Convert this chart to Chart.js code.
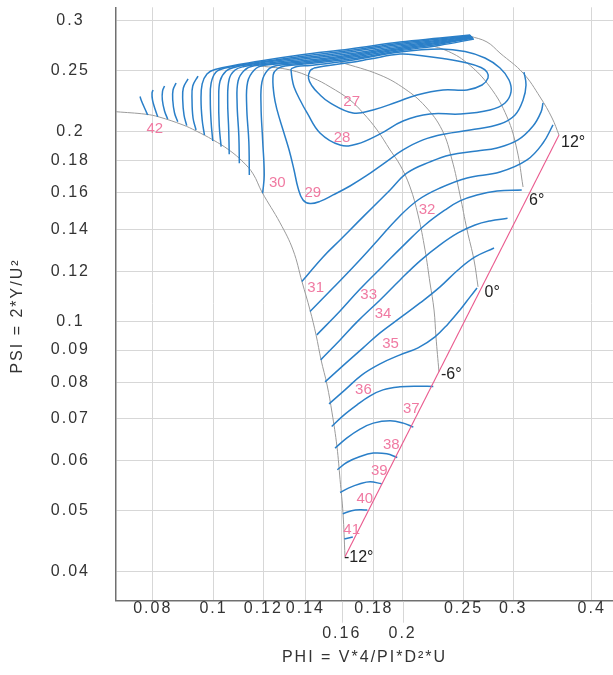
<!DOCTYPE html>
<html><head><meta charset="utf-8">
<script src="https://cdn.jsdelivr.net/npm/chart.js@4/dist/chart.umd.min.js"></script>
<style>html,body{margin:0;padding:0;background:#fff;}canvas{display:block;}</style>
</head><body>
<canvas id="c" width="613" height="675" style="width:613px;height:675px"></canvas>
<script>
// ---- axes ----
const X_TICKS = [0.08, 0.1, 0.12, 0.14, 0.16, 0.18, 0.2, 0.25, 0.3, 0.4];
const X_LABELS = ['0.08', '0.1', '0.12', '0.14', ['', '0.16'], '0.18', ['', '0.2'], '0.25', '0.3', '0.4'];
const Y_TICKS = [0.04, 0.05, 0.06, 0.07, 0.08, 0.09, 0.1, 0.12, 0.14, 0.16, 0.18, 0.2, 0.25, 0.3];
const Y_LABELS = ['0.04', '0.05', '0.06', '0.07', '0.08', '0.09', '0.1', '0.12', '0.14', '0.16', '0.18', '0.2', '0.25', '0.3'];
const X_TITLE = 'PHI = V*4/PI*D²*U';
const Y_TITLE = 'PSI = 2*Y/U²';

// ---- grey boundary / angle arcs [phi, psi] ----
const ARC_LEFT = [[0.06992,0.2152],[0.07806,0.2132],[0.08187,0.2111],[0.0894,0.205],[0.09376,0.2006],[0.09979,0.1941],[0.1058,0.1871],[0.1114,0.1791],[0.1156,0.1714],[0.1194,0.1604],[0.1276,0.1433],[0.1338,0.1298],[0.1383,0.1155],[0.1424,0.1042],[0.1456,0.0951],[0.1483,0.0868],[0.1516,0.0792],[0.1544,0.0715],[0.1572,0.0632],[0.1590,0.0560],[0.1607,0.0496],[0.1619,0.04225]];
const ARC_M6 = [[0.1186,0.2544],[0.1324,0.2507],[0.1440,0.2434],[0.1533,0.2356],[0.1649,0.2246],[0.1730,0.2142],[0.1821,0.2013],[0.1910,0.1871],[0.1981,0.1771],[0.2055,0.1634],[0.2116,0.1475],[0.2171,0.1298],[0.2211,0.1150],[0.2244,0.1042],[0.2260,0.0944],[0.2285,0.0831]];
const ARC_0 = [[0.1590,0.2581],[0.1841,0.2461],[0.2018,0.2338],[0.2171,0.2197],[0.2311,0.2013],[0.2397,0.1804],[0.2468,0.1587],[0.2533,0.1396],[0.2598,0.1251],[0.2637,0.1134]];
const ARC_6 = [[0.2132,0.2767],[0.2336,0.2697],[0.2533,0.2572],[0.2755,0.2356],[0.2933,0.2111],[0.3042,0.1871],[0.3110,0.1634]];
const ARC_12 = [[0.2561,0.2838],[0.2725,0.2777],[0.2858,0.2667],[0.3110,0.2479],[0.3310,0.2271],[0.3459,0.2103],[0.3548,0.1976]];
const ANGLE_LINE = [[0.1619,0.04225],[0.3548,0.1976]];

// ---- blue contours [phi, psi] ----
const C27 = [[0.1445,0.2525],[0.1424,0.2498],[0.1416,0.2434],[0.1435,0.2364],[0.1467,0.2304],[0.1533,0.2222],[0.1667,0.2142],[0.1794,0.2166],[0.1959,0.2230],[0.2108,0.2288],[0.2319,0.2330],[0.2533,0.2330],[0.2676,0.2373],[0.2735,0.2434],[0.2725,0.2488],[0.2666,0.2530],[0.2533,0.2572],[0.2319,0.2614],[0.2132,0.2643],[0.1981,0.2658],[0.1775,0.2609],[0.1649,0.2576],[0.1505,0.2544],[0.1445,0.2525]];
const C28 = [[0.1328,0.2516],[0.1333,0.2434],[0.1343,0.2356],[0.1373,0.2246],[0.1409,0.2142],[0.1477,0.1991],[0.1590,0.1905],[0.1692,0.1912],[0.1841,0.1984],[0.2003,0.2080],[0.2211,0.2134],[0.2468,0.2134],[0.2755,0.2166],[0.2911,0.2222],[0.2976,0.2313],[0.2954,0.2417],[0.2858,0.2525],[0.2705,0.2619],[0.2514,0.2682],[0.2294,0.2707],[0.1981,0.2677],[0.1649,0.2595],[0.1424,0.2548],[0.1358,0.2539],[0.1328,0.2516]];
const C29 = [[0.2598,0.2807],[0.2294,0.2745],[0.1981,0.2689],[0.1649,0.2609],[0.1373,0.2558],[0.1299,0.2544],[0.1262,0.2516],[0.1244,0.2461],[0.1248,0.2288],[0.1262,0.2166],[0.1290,0.2013],[0.1319,0.1871],[0.1343,0.1739],[0.1363,0.1628],[0.1388,0.1558],[0.1424,0.1538],[0.1477,0.1550],[0.1550,0.1587],[0.1649,0.1640],[0.1749,0.1701],[0.1861,0.1777],[0.2003,0.1871],[0.2155,0.1941],[0.2336,0.1984],[0.2561,0.2013],[0.2858,0.2057],[0.3020,0.2126],[0.3110,0.2246],[0.3144,0.2373],[0.3121,0.2488]];
const C30 = [[0.1197,0.1597],[0.1204,0.1707],[0.1197,0.1941],[0.1190,0.2197],[0.1194,0.2399],[0.1220,0.2507],[0.1262,0.2548],[0.1373,0.2567],[0.1649,0.2623],[0.1981,0.2701],[0.2294,0.2757],[0.2589,0.2818]];
const C31 = [[0.1140,0.1707],[0.1138,0.1926],[0.1129,0.2197],[0.1133,0.2399],[0.1161,0.2507],[0.1203,0.2550],[0.1373,0.2578],[0.1649,0.2635],[0.1981,0.2713],[0.2294,0.2767],[0.2589,0.2823]];
const C32 = [[0.1099,0.1782],[0.1097,0.1969],[0.1090,0.2222],[0.1094,0.2408],[0.1119,0.2502],[0.1160,0.2545],[0.1373,0.2590],[0.1649,0.2648],[0.1981,0.2725],[0.2294,0.2777],[0.2579,0.2828]];
const C33 = [[0.1059,0.1842],[0.1057,0.2013],[0.1053,0.2246],[0.1059,0.2426],[0.1082,0.2507],[0.1118,0.2539],[0.1186,0.2562],[0.1373,0.2605],[0.1649,0.2662],[0.1981,0.2738],[0.2294,0.2787],[0.2579,0.2833]];
const C34 = [[0.1028,0.1894],[0.1021,0.2042],[0.1019,0.2246],[0.1024,0.2408],[0.1047,0.2497],[0.1078,0.2530],[0.1186,0.2572],[0.1373,0.2619],[0.1649,0.2677],[0.1981,0.2751],[0.2294,0.2797],[0.2570,0.2838]];
const C35 = [[0.0997,0.1933],[0.0991,0.2073],[0.0988,0.2246],[0.0991,0.2390],[0.1009,0.2488],[0.1039,0.2522],[0.1186,0.2581],[0.1373,0.2633],[0.1649,0.2692],[0.1981,0.2764],[0.2294,0.2807],[0.2570,0.2844]];
const C36 = [[0.0967,0.1976],[0.0959,0.2088],[0.0955,0.2246],[0.0959,0.2382],[0.0976,0.2470],[0.1005,0.2511],[0.1186,0.2590],[0.1373,0.2648],[0.1649,0.2707],[0.1981,0.2777],[0.2294,0.2818],[0.2561,0.2849]];
const C37 = [[0.09376,0.2013],[0.09274,0.2103],[0.0924,0.2246],[0.09264,0.2364],[0.09445,0.2452]];
const C38 = [[0.09062,0.2045],[0.08973,0.2126],[0.0893,0.2246],[0.0895,0.2347],[0.09106,0.2426]];
const C39 = [[0.08768,0.2075],[0.08666,0.2142],[0.08609,0.2246],[0.08618,0.2330],[0.08714,0.2390]];
const C40 = [[0.08452,0.2095],[0.08354,0.2158],[0.08287,0.2246],[0.08293,0.2321],[0.08354,0.2364]];
const C41 = [[0.08148,0.2113],[0.08068,0.2173],[0.07994,0.2246],[0.07979,0.2304],[0.08009,0.2330]];
const C42 = [[0.07854,0.2126],[0.07777,0.2173],[0.07678,0.2238],[0.07636,0.2275]];
const L30 = [[0.1382,0.1156],[0.1494,0.1265],[0.1590,0.1346],[0.1692,0.1433],[0.1794,0.1519],[0.1910,0.1616],[0.2033,0.1720],[0.2211,0.1791],[0.2380,0.1837],[0.2627,0.1864],[0.2827,0.1885],[0.3053,0.1941],[0.3226,0.2042],[0.3322,0.2150],[0.3346,0.2222]];
const L31 = [[0.1424,0.1036],[0.1549,0.1129],[0.1686,0.1233],[0.1827,0.1346],[0.1966,0.1459],[0.2116,0.1558],[0.2294,0.1628],[0.2533,0.1689],[0.2858,0.1726],[0.3156,0.1804],[0.3346,0.1919],[0.3471,0.2050]];
const L32 = [[0.1460,0.09512],[0.1590,0.1038],[0.1711,0.1125],[0.1861,0.1224],[0.2018,0.1327],[0.2171,0.1422],[0.2336,0.1502],[0.2468,0.1553],[0.2627,0.1587],[0.2827,0.1610],[0.3095,0.1616]];
const L33 = [[0.1481,0.08681],[0.1590,0.09339],[0.1692,0.09975],[0.1841,0.1081],[0.1981,0.1163],[0.2132,0.1247],[0.2294,0.1322],[0.2450,0.1381],[0.2608,0.1422],[0.2755,0.1443],[0.2938,0.1457]];
const L34 = [[0.1505,0.0801],[0.1619,0.08555],[0.1730,0.0907],[0.1841,0.09581],[0.1981,0.1012],[0.2132,0.1069],[0.2294,0.1134],[0.2450,0.1206],[0.2608,0.1265],[0.2796,0.1307]];
const L35 = [[0.1527,0.07391],[0.1619,0.07779],[0.1723,0.08218],[0.1841,0.08555],[0.1981,0.08841],[0.2116,0.0907],[0.2252,0.09443],[0.2362,0.09902],[0.2468,0.1042],[0.2561,0.1093],[0.2627,0.1129]];
const L36 = [[0.1542,0.06803],[0.1607,0.07074],[0.1692,0.07364],[0.1775,0.0761],[0.1861,0.07779],[0.1981,0.07865],[0.2108,0.07885],[0.2238,0.07874]];
const L37 = [[0.1561,0.06286],[0.1629,0.0652],[0.1711,0.06738],[0.1796,0.06887],[0.1910,0.06946],[0.2005,0.06887],[0.2080,0.06788]];
const L38 = [[0.1574,0.05807],[0.1629,0.05964],[0.1711,0.06096],[0.1796,0.06172],[0.1887,0.06156],[0.1961,0.06074]];
const L39 = [[0.1590,0.05344],[0.1639,0.05431],[0.1711,0.05517],[0.1775,0.05557],[0.1852,0.05517]];
const L40 = [[0.1606,0.04944],[0.1659,0.04999],[0.1711,0.05017],[0.1757,0.05011]];
const L41 = [[0.1615,0.04508],[0.1666,0.04541]];

// ---- labels ----
const LEVEL_TEXT = ['27','28','29','30','31','32','33','34','35','36','37','38','39','40','41','42'];
const LEVEL_X = [0.1659,0.1602,0.1439,0.1263,0.1454,0.2187,0.1766,0.1861,0.1913,0.1732,0.2065,0.1919,0.1836,0.1741,0.1659,0.0806];
const LEVEL_Y = [0.2232,0.1955,0.1599,0.1659,0.1129,0.1504,0.1101,0.1028,0.0921,0.07765,0.07244,0.0637,0.0578,0.05213,0.04654,0.2020];
const ANGLE_TEXT = ['12°','6°','0°','-6°','-12°'];
const ANGLE_X = [0.3575,0.3179,0.2700,0.2302,0.1613];
const ANGLE_Y = [0.1923,0.1553,0.1111,0.08218,0.04217];

const FONT = '"Liberation Sans", Arial, Helvetica, sans-serif';
const BLUE = '#2a7fc8', GREY = '#9b9b9b', PINK = '#ea5a8e', PINK_TXT = '#f07aa2', GRID = '#d7d7d7', TXT = '#333';

function ds(pts, color, width, order) {
  return { data: pts.map(p => ({ x: p[0], y: p[1] })), showLine: true, borderColor: color,
    borderWidth: width, pointRadius: 0, pointHoverRadius: 0, tension: 0.4, fill: false, order: order };
}
const greys = [ARC_LEFT, ARC_M6, ARC_0, ARC_6, ARC_12].map(a => ds(a, GREY, 1, 3));
const blues = [C27,C28,C29,C30,C31,C32,C33,C34,C35,C36,C37,C38,C39,C40,C41,C42,
               L30,L31,L32,L33,L34,L35,L36,L37,L38,L39,L40,L41].map(a => ds(a, BLUE, 1.5, 2));
const pink = ds(ANGLE_LINE, PINK, 1.1, 1); pink.tension = 0;

const textPlugin = {
  id: 'txt',
  beforeDraw(chart) { chart.ctx.letterSpacing = '2px'; },
  afterDatasetsDraw(chart) {
    const { ctx, scales: { x, y }, chartArea } = chart;
    ctx.save();
    ctx.strokeStyle = GRID; ctx.lineWidth = 1;
    [0.16, 0.2].forEach(v => {
      const px = Math.round(x.getPixelForValue(v)) + 0.5;
      ctx.beginPath(); ctx.moveTo(px, chartArea.bottom + 1); ctx.lineTo(px, chartArea.bottom + 22); ctx.stroke();
    });
    ctx.letterSpacing = '0px';
    ctx.textBaseline = 'middle';
    ctx.font = '15px ' + FONT; ctx.fillStyle = PINK_TXT; ctx.textAlign = 'center';
    LEVEL_TEXT.forEach((t, i) => ctx.fillText(t, x.getPixelForValue(LEVEL_X[i]), y.getPixelForValue(LEVEL_Y[i])));
    ctx.font = '16px ' + FONT; ctx.fillStyle = '#222'; ctx.textAlign = 'left';
    ANGLE_TEXT.forEach((t, i) => ctx.fillText(t, x.getPixelForValue(ANGLE_X[i]), y.getPixelForValue(ANGLE_Y[i])));
    ctx.letterSpacing = '2px';
    ctx.fillStyle = TXT; ctx.textAlign = 'center';
    ctx.fillText(X_TITLE, (chartArea.left + chartArea.right) / 2, 658);
    ctx.translate(18, 316); ctx.rotate(-Math.PI / 2);
    ctx.fillText(Y_TITLE, 0, 0);
    ctx.restore();
  }
};

new Chart(document.getElementById('c'), {
  type: 'scatter',
  data: { datasets: [pink, ...blues, ...greys] },
  options: {
    responsive: false, animation: false, devicePixelRatio: 1, events: [],
    layout: { padding: { top: 7.3, left: 0, right: 0, bottom: 0 } },
    plugins: { legend: { display: false }, tooltip: { enabled: false } },
    scales: {
      x: {
        type: 'logarithmic', position: 'bottom', min: 0.06992, max: 0.4325,
        afterBuildTicks: s => { s.ticks = X_TICKS.map(v => ({ value: v })); },
        afterFit: s => { s.height = 74.3; s.paddingLeft = 0; s.paddingRight = 0; },
        ticks: { autoSkip: false, maxRotation: 0, minRotation: 0, padding: -5, color: TXT,
          font: { family: FONT, size: 16, lineHeight: 1.5625 }, callback: (v, i) => X_LABELS[i] },
        grid: { color: GRID, lineWidth: 1, drawTicks: false },
        border: { display: true, color: '#707070', width: 1.5 }
      },
      y: {
        type: 'logarithmic', position: 'left', min: 0.03597, max: 0.3153,
        afterBuildTicks: s => { s.ticks = Y_TICKS.map(v => ({ value: v })); },
        afterFit: s => { s.width = 116; s.paddingTop = 0; s.paddingBottom = 0; },
        ticks: { autoSkip: false, crossAlign: 'center', padding: 30, color: TXT,
          font: { family: FONT, size: 16 }, callback: (v, i) => Y_LABELS[i] },
        grid: { color: GRID, lineWidth: 1, drawTicks: false },
        border: { display: true, color: '#707070', width: 1.5 }
      }
    }
  },
  plugins: [textPlugin]
});
</script>
</body></html>
